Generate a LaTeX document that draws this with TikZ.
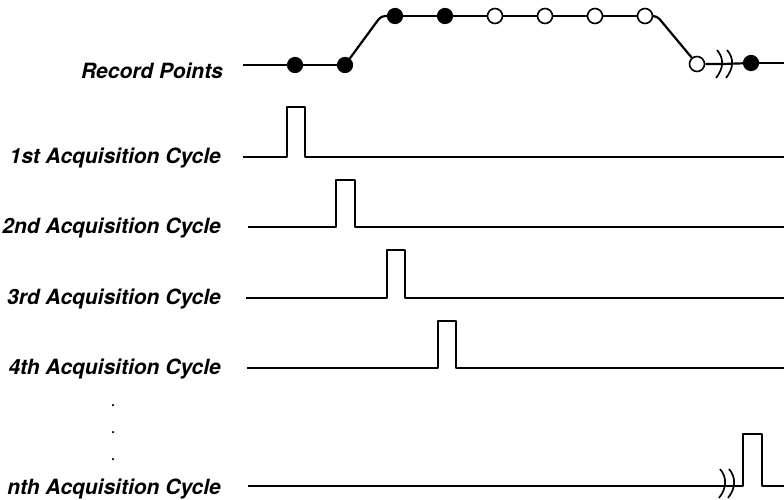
\documentclass[tikz,border=0pt]{standalone}
\usepackage{fontspec}
\setmainfont{TeX Gyre Heros}
\begin{document}
\begin{tikzpicture}[line width=2.2pt, line join=round,
    recfull/.style={shape=circle, draw, fill=black, inner sep=0pt, minimum size=14pt},
    recopen/.style={shape=circle, draw, fill=white, line width=1.6pt, inner sep=0pt, minimum size=15pt},
    cyclelabel/.style={anchor=base east, inner sep=0pt, font=\fontsize{21}{24}\selectfont\bfseries\itshape},
    breakmark/.style={line width=1.7pt}]

    \useasboundingbox (0pt, 0pt) rectangle (784pt, -499pt);

    % record points
    \node (RecLbl) [cyclelabel] at (224pt, -78pt) {Record Points};
    \coordinate (RecS) at (243pt, -65pt);
    \node at (295pt, -65pt) (R1) [recfull] {};
    \node at (345pt, -65pt) (R2) [recfull] {};
    \node at (395pt, -16pt) (R3) [recfull] {};
    \node at (445pt, -16pt) (R4) [recfull] {};
    \node at (495pt, -16pt) (R5) [recopen] {};
    \node at (545pt, -16pt) (R6) [recopen] {};
    \node at (595pt, -16pt) (R7) [recopen] {};
    \node at (645pt, -16pt) (R8) [recopen] {};
    \node at (697pt, -64pt) (R9) [recopen] {};
    \node at (751pt, -63pt) (Rn) [recfull] {};
    \coordinate (Up) at (381pt, -16pt);
    \coordinate (Down) at (657pt, -16pt);
    \coordinate (RecBrk) at (723pt, -64pt);
    \coordinate (RecE) at (784pt, -63pt);

    \path[draw] (RecS) -- (R1);
    \path[draw] (R1) -- (R2);
    \path[draw, rounded corners=4pt] (R2) -- (Up) -- (R3);
    \path[draw] (R3) -- (R4);
    \path[draw] (R4) -- (R5);
    \path[draw] (R5) -- (R6);
    \path[draw] (R6) -- (R7);
    \path[draw] (R7) -- (R8);
    \path[draw, rounded corners=4pt] (R8) -- (Down) -- (R9);
    \path[draw] (R9) -- (RecBrk) -- (Rn);
    \path[draw] (Rn) -- (RecE);
    \path[draw, breakmark] (717pt, -50pt) .. controls (724pt, -58pt) and (724pt, -68pt) .. (716pt, -78pt);
    \path[draw, breakmark] (727pt, -50pt) .. controls (734pt, -58pt) and (734pt, -68pt) .. (726pt, -78pt);

    % acquisition cycles
    \node (C1Lbl) [cyclelabel] at (222pt, -163pt) {1st Acquisition Cycle};
    \node (C2Lbl) [cyclelabel] at (222pt, -233pt) {2nd Acquisition Cycle};
    \node (C3Lbl) [cyclelabel] at (222pt, -304pt) {3rd Acquisition Cycle};
    \node (C4Lbl) [cyclelabel] at (222pt, -374pt) {4th Acquisition Cycle};
    \node (CnLbl) [cyclelabel] at (222pt, -494pt) {nth Acquisition Cycle};

    \coordinate (C1S) at (243pt, -157pt);
    \coordinate (C1P) at (287pt, -157pt);
    \coordinate (C1E) at (784pt, -157pt);
    \coordinate (C2S) at (248pt, -227pt);
    \coordinate (C2P) at (336pt, -227pt);
    \coordinate (C2E) at (784pt, -227pt);
    \coordinate (C3S) at (246pt, -298pt);
    \coordinate (C3P) at (387pt, -298pt);
    \coordinate (C3E) at (784pt, -298pt);
    \coordinate (C4S) at (247pt, -368pt);
    \coordinate (C4P) at (438pt, -368pt);
    \coordinate (C4E) at (784pt, -368pt);
    \coordinate (CnS) at (248pt, -486pt);
    \coordinate (CnP) at (743pt, -486pt);
    \coordinate (CnE) at (784pt, -486pt);

    \path[draw] (C1S) -- (C1P) -- ++(0pt, 50pt) -- ++(18pt, 0pt) -- ++(0pt, -50pt) -- (C1E);
    \path[draw] (C2S) -- (C2P) -- ++(0pt, 47pt) -- ++(19pt, 0pt) -- ++(0pt, -47pt) -- (C2E);
    \path[draw] (C3S) -- (C3P) -- ++(0pt, 48pt) -- ++(18pt, 0pt) -- ++(0pt, -48pt) -- (C3E);
    \path[draw] (C4S) -- (C4P) -- ++(0pt, 47pt) -- ++(18pt, 0pt) -- ++(0pt, -47pt) -- (C4E);
    \path[draw] (CnS) -- (CnP) -- ++(0pt, 52pt) -- ++(19pt, 0pt) -- ++(0pt, -52pt) -- (CnE);
    \path[draw, breakmark] (720pt, -469pt) .. controls (727pt, -477pt) and (727pt, -488pt) .. (719pt, -498pt);
    \path[draw, breakmark] (729pt, -469pt) .. controls (736pt, -477pt) and (736pt, -488pt) .. (728pt, -498pt);

    % vertical ellipsis
    \node at (113pt, -405pt) (D1) [shape=circle, fill=black, inner sep=0pt, minimum size=2.5pt] {};
    \node at (113pt, -432pt) (D2) [shape=circle, fill=black, inner sep=0pt, minimum size=2.5pt] {};
    \node at (113pt, -459pt) (D3) [shape=circle, fill=black, inner sep=0pt, minimum size=2.5pt] {};

\end{tikzpicture}
\end{document}
